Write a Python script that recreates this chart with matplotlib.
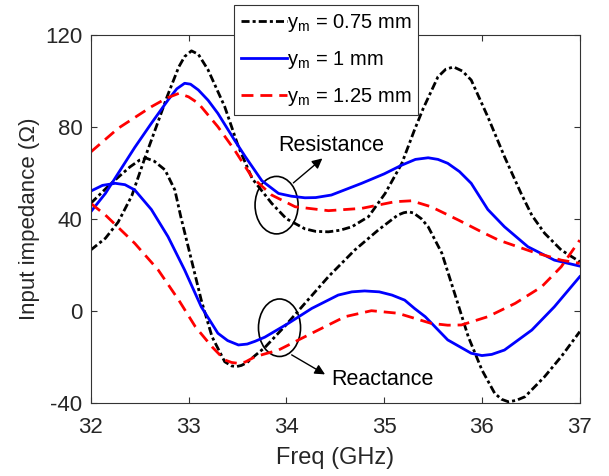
import matplotlib
matplotlib.use('Agg')
import matplotlib.pyplot as plt
from matplotlib.patches import Ellipse

plt.rcParams['font.family'] = ['Liberation Sans', 'DejaVu Sans']
plt.rcParams['axes.unicode_minus'] = False

# ym = 0.75 mm, resistance
f_r075 = [32.0, 32.15, 32.28, 32.42, 32.55, 32.67, 32.78, 32.9, 32.96, 33.03, 33.1, 33.2,
          33.37, 33.51, 33.65, 33.85, 34.0, 34.19, 34.3, 34.43, 34.55, 34.67, 34.84, 35.01,
          35.18, 35.31, 35.4, 35.55, 35.63, 35.71, 35.8, 35.89, 36.06, 36.23, 36.4, 36.51,
          36.64, 36.81, 37.0]
r075 = [26.4, 31.5, 38.5, 50, 66, 80, 93, 106, 110.5, 113, 111.5, 104.7,
        88.7, 71.3, 57.5, 46.7, 40, 35.6, 34.5, 34.3, 35, 36.5, 40.9, 51,
        64, 78.6, 88, 101.7, 105, 106, 104.2, 100.3, 84.3, 67, 51, 41.5,
        33.7, 26.4, 21.3]
# ym = 0.75 mm, reactance
f_x075 = [32.0, 32.2, 32.4, 32.5, 32.57, 32.65, 32.76, 32.86, 32.92, 33.03, 33.13, 33.24,
          33.37, 33.44, 33.49, 33.54, 33.6, 33.68, 33.78, 33.99, 34.19, 34.43, 34.7, 34.94,
          35.14, 35.2, 35.25, 35.3, 35.38, 35.45, 35.59, 35.72, 35.86, 36.0, 36.13, 36.2,
          36.27, 36.35, 36.44, 36.64, 36.81, 37.0]
x075 = [46.7, 55, 62.5, 65.5, 66.3, 65, 61.2, 52.5, 41, 22, 4.6, -11.3,
        -22.2, -24, -24.3, -23.8, -22.5, -19.5, -16, -6.5, 3.2, 14.8, 26.4, 35.1,
        41.6, 42.6, 43, 42.5, 40, 36.5, 25, 7.6, -11.3, -25.8, -35.9, -38.5,
        -39.6, -39, -37.4, -28.7, -20, -9.1]

# ym = 1 mm
f_r1 = [32.0, 32.15, 32.28, 32.45, 32.62, 32.79, 32.88, 32.96, 33.02, 33.1, 33.2, 33.3,
        33.47, 33.58, 33.75, 33.92, 34.05, 34.19, 34.3, 34.46, 34.77, 35.0, 35.18, 35.32,
        35.45, 35.55, 35.65, 35.77, 35.89, 36.06, 36.23, 36.47, 36.74, 37.0]
r1 = [43, 51, 59.7, 71, 81.5, 91.6, 96.5, 98.9, 98.5, 96, 91.5, 85.8,
      74.2, 67, 56.5, 51, 49.8, 49.1, 49.2, 50.3, 55.4, 59.5, 63.3, 65.8,
      66.5, 65.8, 64.1, 60.5, 55.4, 44, 36.5, 27.8, 22, 19.4]
f_x1 = [32.0, 32.12, 32.25, 32.35, 32.45, 32.62, 32.79, 32.96, 33.13, 33.3, 33.4, 33.51,
        33.6, 33.68, 33.78, 34.02, 34.26, 34.53, 34.67, 34.8, 34.95, 35.08, 35.21, 35.31,
        35.42, 35.65, 35.89, 36.0, 36.1, 36.23, 36.51, 36.74, 37.0]
x1 = [52, 54.5, 55.4, 54.8, 52.5, 44, 32.2, 17.7, 1.7, -9.8, -13, -14.9,
      -14.5, -13.3, -11.5, -5.5, 1, 6.8, 8.2, 8.6, 8.2, 6.8, 4.6, 1,
      -2.6, -12.7, -18.5, -19.5, -19, -17.1, -8.4, 1.7, 14.8]

# ym = 1.25 mm
f_r125 = [32.0, 32.28, 32.62, 32.78, 32.9, 33.0, 33.1, 33.3, 33.47, 33.65, 33.85, 34.09,
          34.43, 34.77, 35.11, 35.28, 35.48, 35.76, 36.0, 36.17, 36.51, 36.81, 37.0]
r125 = [69, 79.3, 88.7, 92.5, 94.5, 93, 90.2, 80, 69.9, 58, 50.3, 45.2,
        43.5, 44.5, 47.4, 47.8, 45.2, 39.4, 34.2, 30.7, 25.7, 22, 20.6]
f_x125 = [32.0, 32.15, 32.45, 32.69, 32.9, 33.07, 33.24, 33.37, 33.44, 33.51, 33.58, 33.68,
          33.92, 34.26, 34.6, 34.87, 35.14, 35.31, 35.48, 35.65, 35.79, 36.06, 36.34, 36.61,
          36.81, 37.0]
x125 = [46.7, 41.6, 29.3, 17.7, 4.6, -7, -15.7, -21.4, -22.5, -22.9, -22.3, -20,
        -17.1, -9.8, -2.6, 0, -1.1, -3.3, -5.5, -6.3, -6.2, -2.6, 3.2, 10.4,
        19.1, 30.7]

xticks = [32, 33, 34, 35, 36, 37]
yticks = [-40, 0, 40, 80, 120]

fig = plt.figure(figsize=(6.09, 4.76), dpi=100)
ax = fig.add_axes([0.149, 0.154, 0.803, 0.773])

dd = (2.9, 1.1, 1.1, 1.1)
dsh = (4.3, 2.5)
l1, = ax.plot(f_r075, r075, color='black', lw=2, dashes=dd, label='y$_\\mathregular{m}$ = 0.75 mm')
ax.plot(f_x075, x075, color='black', lw=2, dashes=dd)
l2, = ax.plot(f_r1, r1, color='blue', lw=2, label='y$_\\mathregular{m}$ = 1 mm')
ax.plot(f_x1, x1, color='blue', lw=2)
l3, = ax.plot(f_r125, r125, color='red', lw=2, dashes=dsh, label='y$_\\mathregular{m}$ = 1.25 mm')
ax.plot(f_x125, x125, color='red', lw=2, dashes=dsh)

# annotations
ax.add_patch(Ellipse((33.9, 45.9), 0.44, 25, fill=False, color='black', lw=1.2))
ax.add_patch(Ellipse((33.93, -7.4), 0.43, 25, fill=False, color='black', lw=1.2))
ax.annotate('', xy=(34.39, 67), xytext=(34.05, 54.8),
            arrowprops=dict(arrowstyle='-|>', color='black', lw=1, mutation_scale=15))
ax.annotate('', xy=(34.42, -28.3), xytext=(34.03, -18.6),
            arrowprops=dict(arrowstyle='-|>', color='black', lw=1, mutation_scale=15))
ax.text(34.46, 72, 'Resistance', fontsize=15.5, ha='center', va='center')
ax.text(34.98, -29.8, 'Reactance', fontsize=15.5, ha='center', va='center')

ax.set_xlim(32, 37)
ax.set_ylim(-40, 120)
ax.set_xticks(xticks)
ax.set_yticks(yticks)
ax.tick_params(direction='in', top=True, right=True, labelsize=16, length=4,
               color='#333333', labelcolor='#262626')
ax.tick_params(axis='x', pad=10)
ax.tick_params(axis='y', pad=6)
for s in ax.spines.values():
    s.set_color('#333333')
ax.set_xlabel('Freq (GHz)', fontsize=17, labelpad=7, color='#262626')
ax.set_ylabel('Input impedance (\u03a9)', fontsize=16, labelpad=4, color='#262626')

leg = ax.legend(handles=[l1, l2, l3], loc='upper left', bbox_to_anchor=(0.292, 1.081),
                borderaxespad=0, fontsize=14.5, frameon=True, fancybox=False,
                framealpha=1, edgecolor='#333333', handlelength=2.3, handletextpad=0.0,
                labelspacing=0.75, borderpad=0.35)
leg.get_frame().set_linewidth(0.8)

fig.savefig('out.png', dpi=100)
